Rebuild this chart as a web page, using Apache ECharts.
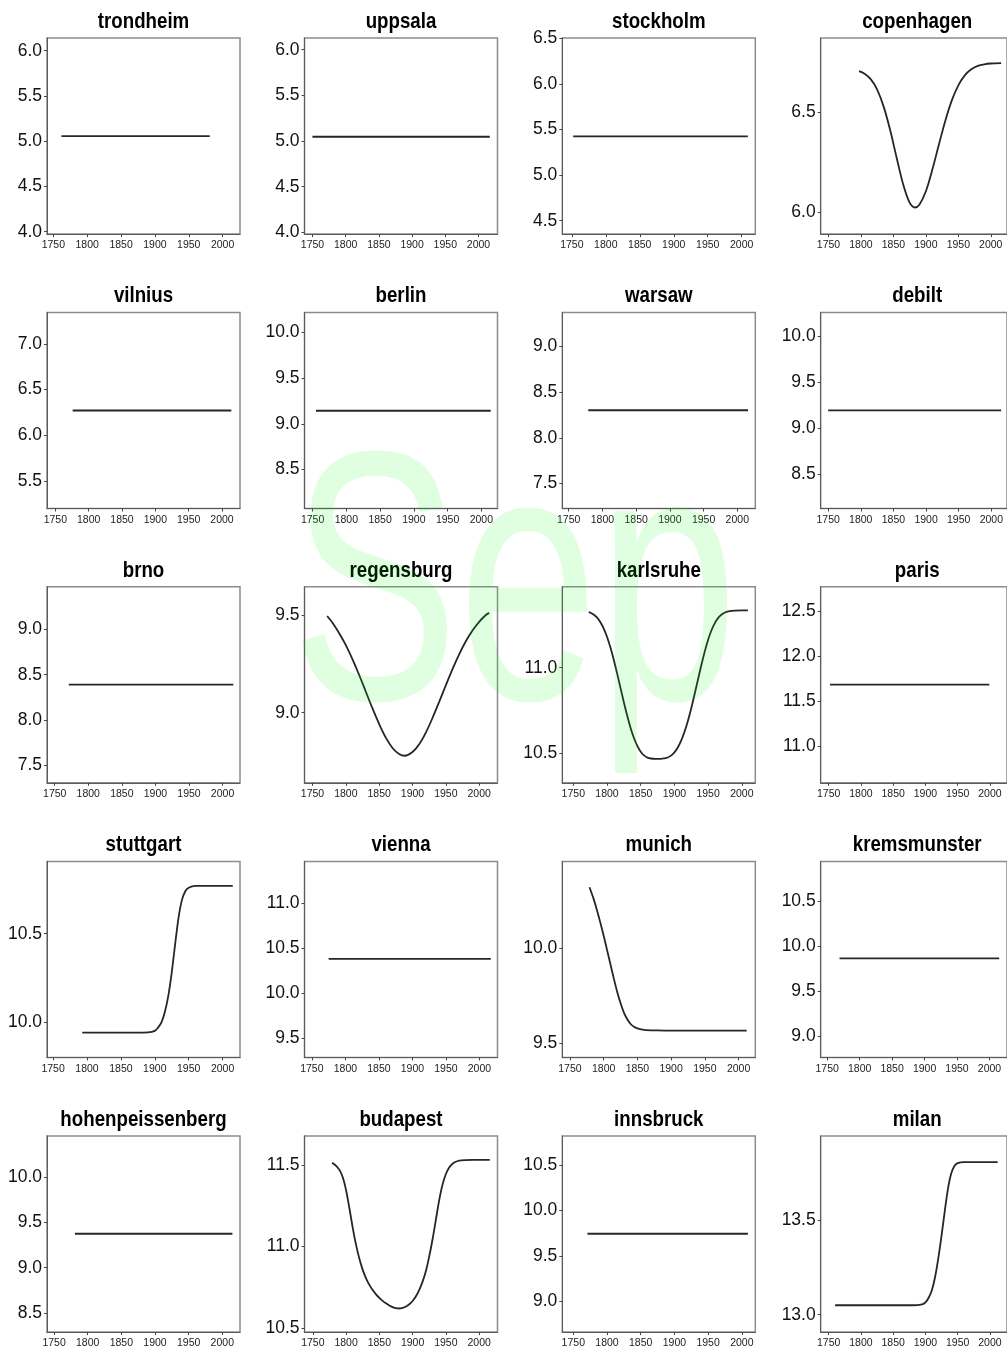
<!DOCTYPE html>
<html><head><meta charset="utf-8">
<script src="https://cdn.jsdelivr.net/npm/echarts@6/dist/echarts.min.js"></script>
<style>html,body{margin:0;padding:0;background:#fff;}#c{width:1007px;height:1353px;}</style>
</head><body><div id="c"></div>
<script>
// ---------- data ----------
const stations = ['trondheim','uppsala','stockholm','copenhagen',
  'vilnius','berlin','warsaw','debilt',
  'brno','regensburg','karlsruhe','paris',
  'stuttgart','vienna','munich','kremsmunster',
  'hohenpeissenberg','budapest','innsbruck','milan'];
const xTickLabels = [1750, 1800, 1850, 1900, 1950, 2000];
const watermark = 'Sep';

const trondheimYears = [1762, 1981];           const trondheimValues = [5.056, 5.056];
const uppsalaYears = [1750, 2017];             const uppsalaValues = [5.047, 5.047];
const stockholmYears = [1752, 2009];           const stockholmValues = [5.426, 5.426];
const copenhagenYears = [1797,1805,1815,1825,1835,1845,1855,1865,1875,1883,1890,1900,1910,1920,1930,1940,1950,1960,1970,1980,1990,2000,2016];
const copenhagenValues = [6.705,6.693,6.665,6.613,6.528,6.411,6.273,6.141,6.049,6.025,6.039,6.106,6.214,6.338,6.458,6.559,6.634,6.684,6.714,6.731,6.739,6.743,6.745];
const vilniusYears = [1776, 2014];             const vilniusValues = [6.27, 6.27];
const berlinYears = [1755, 2014];              const berlinValues = [9.143, 9.143];
const warsawYears = [1779, 2016];              const warsawValues = [8.302, 8.302];
const debiltYears = [1750, 2015];              const debiltValues = [9.192, 9.192];
const brnoYears = [1771, 2016];                const brnoValues = [8.39, 8.39];
const regensburgYears = [1772,1780,1790,1800,1810,1820,1830,1840,1850,1860,1870,1880,1888,1900,1910,1920,1930,1940,1950,1960,1970,1980,1990,2000,2010,2015];
const regensburgValues = [9.497,9.462,9.408,9.347,9.274,9.194,9.108,9.022,8.942,8.872,8.819,8.788,8.779,8.798,8.838,8.898,8.973,9.056,9.141,9.224,9.300,9.367,9.422,9.467,9.502,9.513];
const karlsruheYears = [1773,1775,1780,1785,1790,1795,1800,1805,1810,1815,1820,1825,1830,1835,1840,1845,1850,1855,1860,1865,1872,1880,1885,1890,1895,1900,1905,1910,1915,1920,1925,1930,1935,1940,1945,1950,1955,1960,1965,1970,1975,1980,1990,2000,2009];
const karlsruheValues = [11.325,11.322,11.311,11.294,11.267,11.230,11.181,11.119,11.047,10.967,10.882,10.798,10.719,10.648,10.589,10.543,10.509,10.487,10.474,10.469,10.467,10.467,10.470,10.475,10.486,10.505,10.533,10.573,10.625,10.689,10.763,10.846,10.931,11.016,11.094,11.163,11.219,11.261,11.291,11.311,11.323,11.329,11.334,11.335,11.335];
const parisYears = [1752, 1999];               const parisValues = [11.685, 11.685];
const stuttgartYears = [1793,1850,1890,1900,1905,1910,1915,1920,1925,1930,1935,1940,1945,1950,1960,1980,2015];
const stuttgartValues = [9.94,9.94,9.942,9.95,9.97,10.00,10.06,10.15,10.28,10.44,10.59,10.69,10.74,10.76,10.77,10.77,10.77];
const viennaYears = [1775, 2017];              const viennaValues = [10.378, 10.378];
const munichYears = [1779,1785,1790,1795,1800,1805,1810,1815,1820,1825,1830,1835,1840,1845,1850,1860,1880,1900,2012];
const munichValues = [10.32,10.26,10.20,10.135,10.065,9.99,9.915,9.84,9.77,9.71,9.66,9.625,9.60,9.585,9.577,9.569,9.566,9.565,9.565];
const kremsmunsterYears = [1769, 2015];        const kremsmunsterValues = [9.867, 9.867];
const hohenpeissenbergYears = [1781, 2015];    const hohenpeissenbergValues = [9.375, 9.375];
const budapestYears = [1779,1785,1790,1795,1800,1805,1810,1815,1820,1825,1830,1835,1840,1845,1850,1855,1860,1865,1870,1875,1880,1885,1890,1895,1900,1905,1910,1915,1920,1925,1930,1935,1940,1945,1950,1955,1960,1965,1970,1980,1990,2016];
const budapestValues = [11.514,11.495,11.47,11.425,11.345,11.235,11.115,11.01,10.925,10.857,10.805,10.765,10.733,10.707,10.685,10.667,10.652,10.639,10.629,10.622,10.620,10.624,10.632,10.646,10.666,10.695,10.735,10.785,10.85,10.94,11.045,11.165,11.285,11.38,11.445,11.485,11.508,11.52,11.527,11.53,11.531,11.531];
const innsbruckYears = [1771, 2009];           const innsbruckValues = [9.744, 9.744];
const milanYears = [1760,1800,1850,1880,1895,1900,1905,1910,1915,1920,1925,1930,1935,1940,1945,1950,1960,2012];
const milanValues = [13.05,13.05,13.05,13.05,13.055,13.065,13.09,13.13,13.20,13.30,13.42,13.55,13.67,13.75,13.79,13.805,13.81,13.81];

const xRanges = [[1740.6,2025.7],[1738,2028.6],[1736,2020],[1738,2025],
  [1737.5,2027],[1738,2024],[1740.5,2026.7],[1738.6,2024],
  [1738.5,2026],[1738,2027.5],[1733.7,2020],[1737.6,2026.5],
  [1741,2025.7],[1739,2027],[1738.7,2024.8],[1740,2027],
  [1739.5,2026.3],[1737.5,2027.6],[1733.7,2020],[1737.6,2026.5]];
const yRanges = [[3.975,6.14],[3.982,6.128],[4.354,6.505],[5.893,6.87],
  [5.197,7.343],[8.071,10.22],[7.225,9.374],[8.127,10.253],
  [7.31,9.468],[8.64,9.647],[10.327,11.473],[10.598,12.769],
  [9.80,10.909],[9.284,11.462],[9.424,10.456],[8.767,10.944],
  [8.29,10.455],[10.476,11.678],[8.664,10.818],[12.908,13.949]];
const yTickLabels = [[4.0,4.5,5.0,5.5,6.0],[4.0,4.5,5.0,5.5,6.0],[4.5,5.0,5.5,6.0,6.5],[6.0,6.5],
  [5.5,6.0,6.5,7.0],[8.5,9.0,9.5,10.0],[7.5,8.0,8.5,9.0],[8.5,9.0,9.5,10.0],
  [7.5,8.0,8.5,9.0],[9.0,9.5],[10.5,11.0],[11.0,11.5,12.0,12.5],
  [10.0,10.5],[9.5,10.0,10.5,11.0],[9.5,10.0],[9.0,9.5,10.0,10.5],
  [8.5,9.0,9.5,10.0],[10.5,11.0,11.5],[9.0,9.5,10.0,10.5],[13.0,13.5]];

const seriesYears = [trondheimYears,uppsalaYears,stockholmYears,copenhagenYears,
  vilniusYears,berlinYears,warsawYears,debiltYears,
  brnoYears,regensburgYears,karlsruheYears,parisYears,
  stuttgartYears,viennaYears,munichYears,kremsmunsterYears,
  hohenpeissenbergYears,budapestYears,innsbruckYears,milanYears];
const seriesValues = [trondheimValues,uppsalaValues,stockholmValues,copenhagenValues,
  vilniusValues,berlinValues,warsawValues,debiltValues,
  brnoValues,regensburgValues,karlsruheValues,parisValues,
  stuttgartValues,viennaValues,munichValues,kremsmunsterValues,
  hohenpeissenbergValues,budapestValues,innsbruckValues,milanValues];

// ---------- layout ----------
const colLeft = [47, 304.5, 562.3, 820.7];
const rowTop = [38, 312.5, 586.8, 861.4, 1136];
const boxW = 193, boxH = 196;
const sans = '"Liberation Sans", Arial, Helvetica, sans-serif';

const grids = [], xAxes = [], yAxes = [], series = [], graphics = [];
stations.forEach((name, i) => {
  const r = Math.floor(i / 4), c = i % 4;
  grids.push({left: colLeft[c], top: rowTop[r], width: boxW, height: boxH,
    show: true, borderColor: '#8c8c8c', borderWidth: 1.5, backgroundColor: 'transparent'});
  xAxes.push({gridIndex: i, type: 'value', min: xRanges[i][0], max: xRanges[i][1],
    splitLine: {show: false},
    axisLine: {show: true, onZero: false, lineStyle: {color: '#5a5a5a', width: 1}},
    axisTick: {show: true, length: 3, customValues: xTickLabels, lineStyle: {color: '#444'}},
    axisLabel: {customValues: xTickLabels, fontSize: 10.5, fontFamily: sans, color: '#222', margin: 6,
      formatter: v => String(Math.round(v))}});
  yAxes.push({gridIndex: i, type: 'value', min: yRanges[i][0], max: yRanges[i][1],
    splitLine: {show: false},
    axisLine: {show: true, onZero: false, lineStyle: {color: '#5a5a5a', width: 1}},
    axisTick: {show: true, length: 3, customValues: yTickLabels[i], lineStyle: {color: '#444'}},
    axisLabel: {customValues: yTickLabels[i], fontSize: 17.5, fontFamily: sans, color: '#111', margin: 5,
      formatter: v => Number(v).toFixed(1)}});
  const yrs = seriesYears[i], vals = seriesValues[i];
  series.push({type: 'line', xAxisIndex: i, yAxisIndex: i,
    data: yrs.map((y, k) => [y, vals[k]]),
    showSymbol: false, symbol: 'none', smooth: yrs.length > 2 ? 0.3 : false,
    lineStyle: {color: '#262626', width: 1.8}, silent: true});
  graphics.push({type: 'text', x: colLeft[c] + boxW / 2, y: 21.5 + r * 274.5, scaleX: 0.85, silent: true,
    style: {text: name, x: 0, y: 0, align: 'center', verticalAlign: 'middle',
      font: 'bold 22px ' + sans, fill: '#000'}});
});
graphics.push({type: 'text', x: 291, y: 601, scaleX: 0.705, z: 100, silent: true,
  style: {text: watermark, x: 0, y: 0, verticalAlign: 'middle', font: '356px ' + sans,
    fill: 'rgba(0,255,0,0.12)'}});

const chart = echarts.init(document.getElementById('c'), null, {renderer: 'canvas'});
chart.setOption({animation: false, backgroundColor: '#fff',
  grid: grids, xAxis: xAxes, yAxis: yAxes, series: series, graphic: graphics});
</script></body></html>
